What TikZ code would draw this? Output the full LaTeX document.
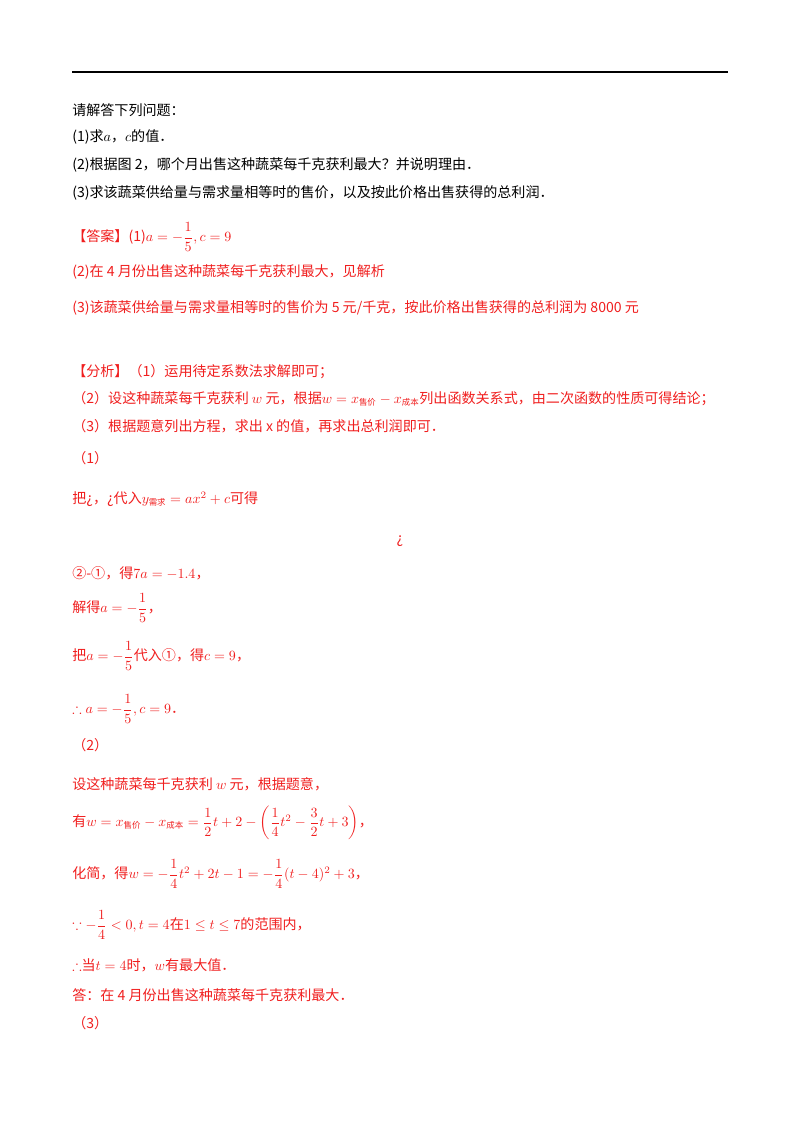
\documentclass[tikz,border=0pt]{standalone}
\usepackage{fontspec}
\setmainfont{Noto Sans CJK SC}
\usepackage{amsmath,amssymb}
\definecolor{ansred}{RGB}{240,30,30}
\tikzset{
  line/.style={anchor=west, inner sep=0pt, font=\fontsize{10}{12}\selectfont},
  redline/.style={line, text=ansred}
}
\newcommand{\sub}[1]{\mbox{\fontsize{6}{7}\selectfont\itshape #1}}
\begin{document}
\begin{tikzpicture}[x=0.025cm, y=-0.025cm]
\useasboundingbox (0,0) rectangle (800,1132);
% header rule
\draw[line width=1.2pt] (72,72) coordinate (ruleL) -- (728,72) coordinate (ruleR);

% questions
\node[line] (q0) at (72,110) {请解答下列问题：};
\node[line] (q1) at (72,137) {(1)求$a$，$c$的值．};
\node[line] (q2) at (72,165) {(2)根据图 2，哪个月出售这种蔬菜每千克获利最大？并说明理由．};
\node[line] (q3) at (72,193) {(3)求该蔬菜供给量与需求量相等时的售价，以及按此价格出售获得的总利润．};

% answers
\node[redline] (ans1) at (72,237) {【答案】(1)$a=-\dfrac{1}{5},c=9$};
\node[redline] (ans2) at (72,272) {(2)在 4 月份出售这种蔬菜每千克获利最大，见解析};
\node[redline] (ans3) at (72,308) {(3)该蔬菜供给量与需求量相等时的售价为 5 元/千克，按此价格出售获得的总利润为 8000 元};

% analysis
\node[redline] (an1) at (72,372) {【分析】（1）运用待定系数法求解即可；};
\node[redline] (an2) at (72,399) {（2）设这种蔬菜每千克获利 $w$ 元，根据$w=x_{\sub{售价}}-x_{\sub{成本}}$列出函数关系式，由二次函数的性质可得结论；};
\node[redline] (an3) at (72,426) {（3）根据题意列出方程，求出 x 的值，再求出总利润即可．};
\node[redline] (p1) at (72,458) {（1）};

% part (1)
\node[redline] (s1) at (72,499) {把¿，¿代入$y_{\sub{需求}}=ax^{2}+c$可得};
\node[redline, anchor=center] (s2) at (400,541) {¿};
\node[redline] (s3) at (72,573) {②-①，得$7a=-1.4$，};
\node[redline] (s4) at (72,608) {解得$a=-\dfrac{1}{5}$，};
\node[redline] (s5) at (72,656) {把$a=-\dfrac{1}{5}$代入①，得$c=9$，};
\node[redline] (s6) at (72,709) {$\therefore a=-\dfrac{1}{5},c=9$．};

% part (2)
\node[redline] (p2) at (72,745) {（2）};
\node[redline] (t1) at (72,784) {设这种蔬菜每千克获利 $w$ 元，根据题意，};
\node[redline] (t2) at (72,823) {有$w=x_{\sub{售价}}-x_{\sub{成本}}=\dfrac{1}{2}t+2-\left(\dfrac{1}{4}t^{2}-\dfrac{3}{2}t+3\right)$，};
\node[redline] (t3) at (72,874) {化简，得$w=-\dfrac{1}{4}t^{2}+2t-1=-\dfrac{1}{4}(t-4)^{2}+3$，};
\node[redline] (t4) at (72,925) {$\because -\dfrac{1}{4}<0,t=4$在$1\le t\le 7$的范围内，};
\node[redline] (t5) at (72,965) {$\therefore$当$t=4$时，$w$有最大值．};
\node[redline] (t6) at (72,995) {答：在 4 月份出售这种蔬菜每千克获利最大．};
\node[redline] (p3) at (72,1023) {（3）};
\end{tikzpicture}
\end{document}
